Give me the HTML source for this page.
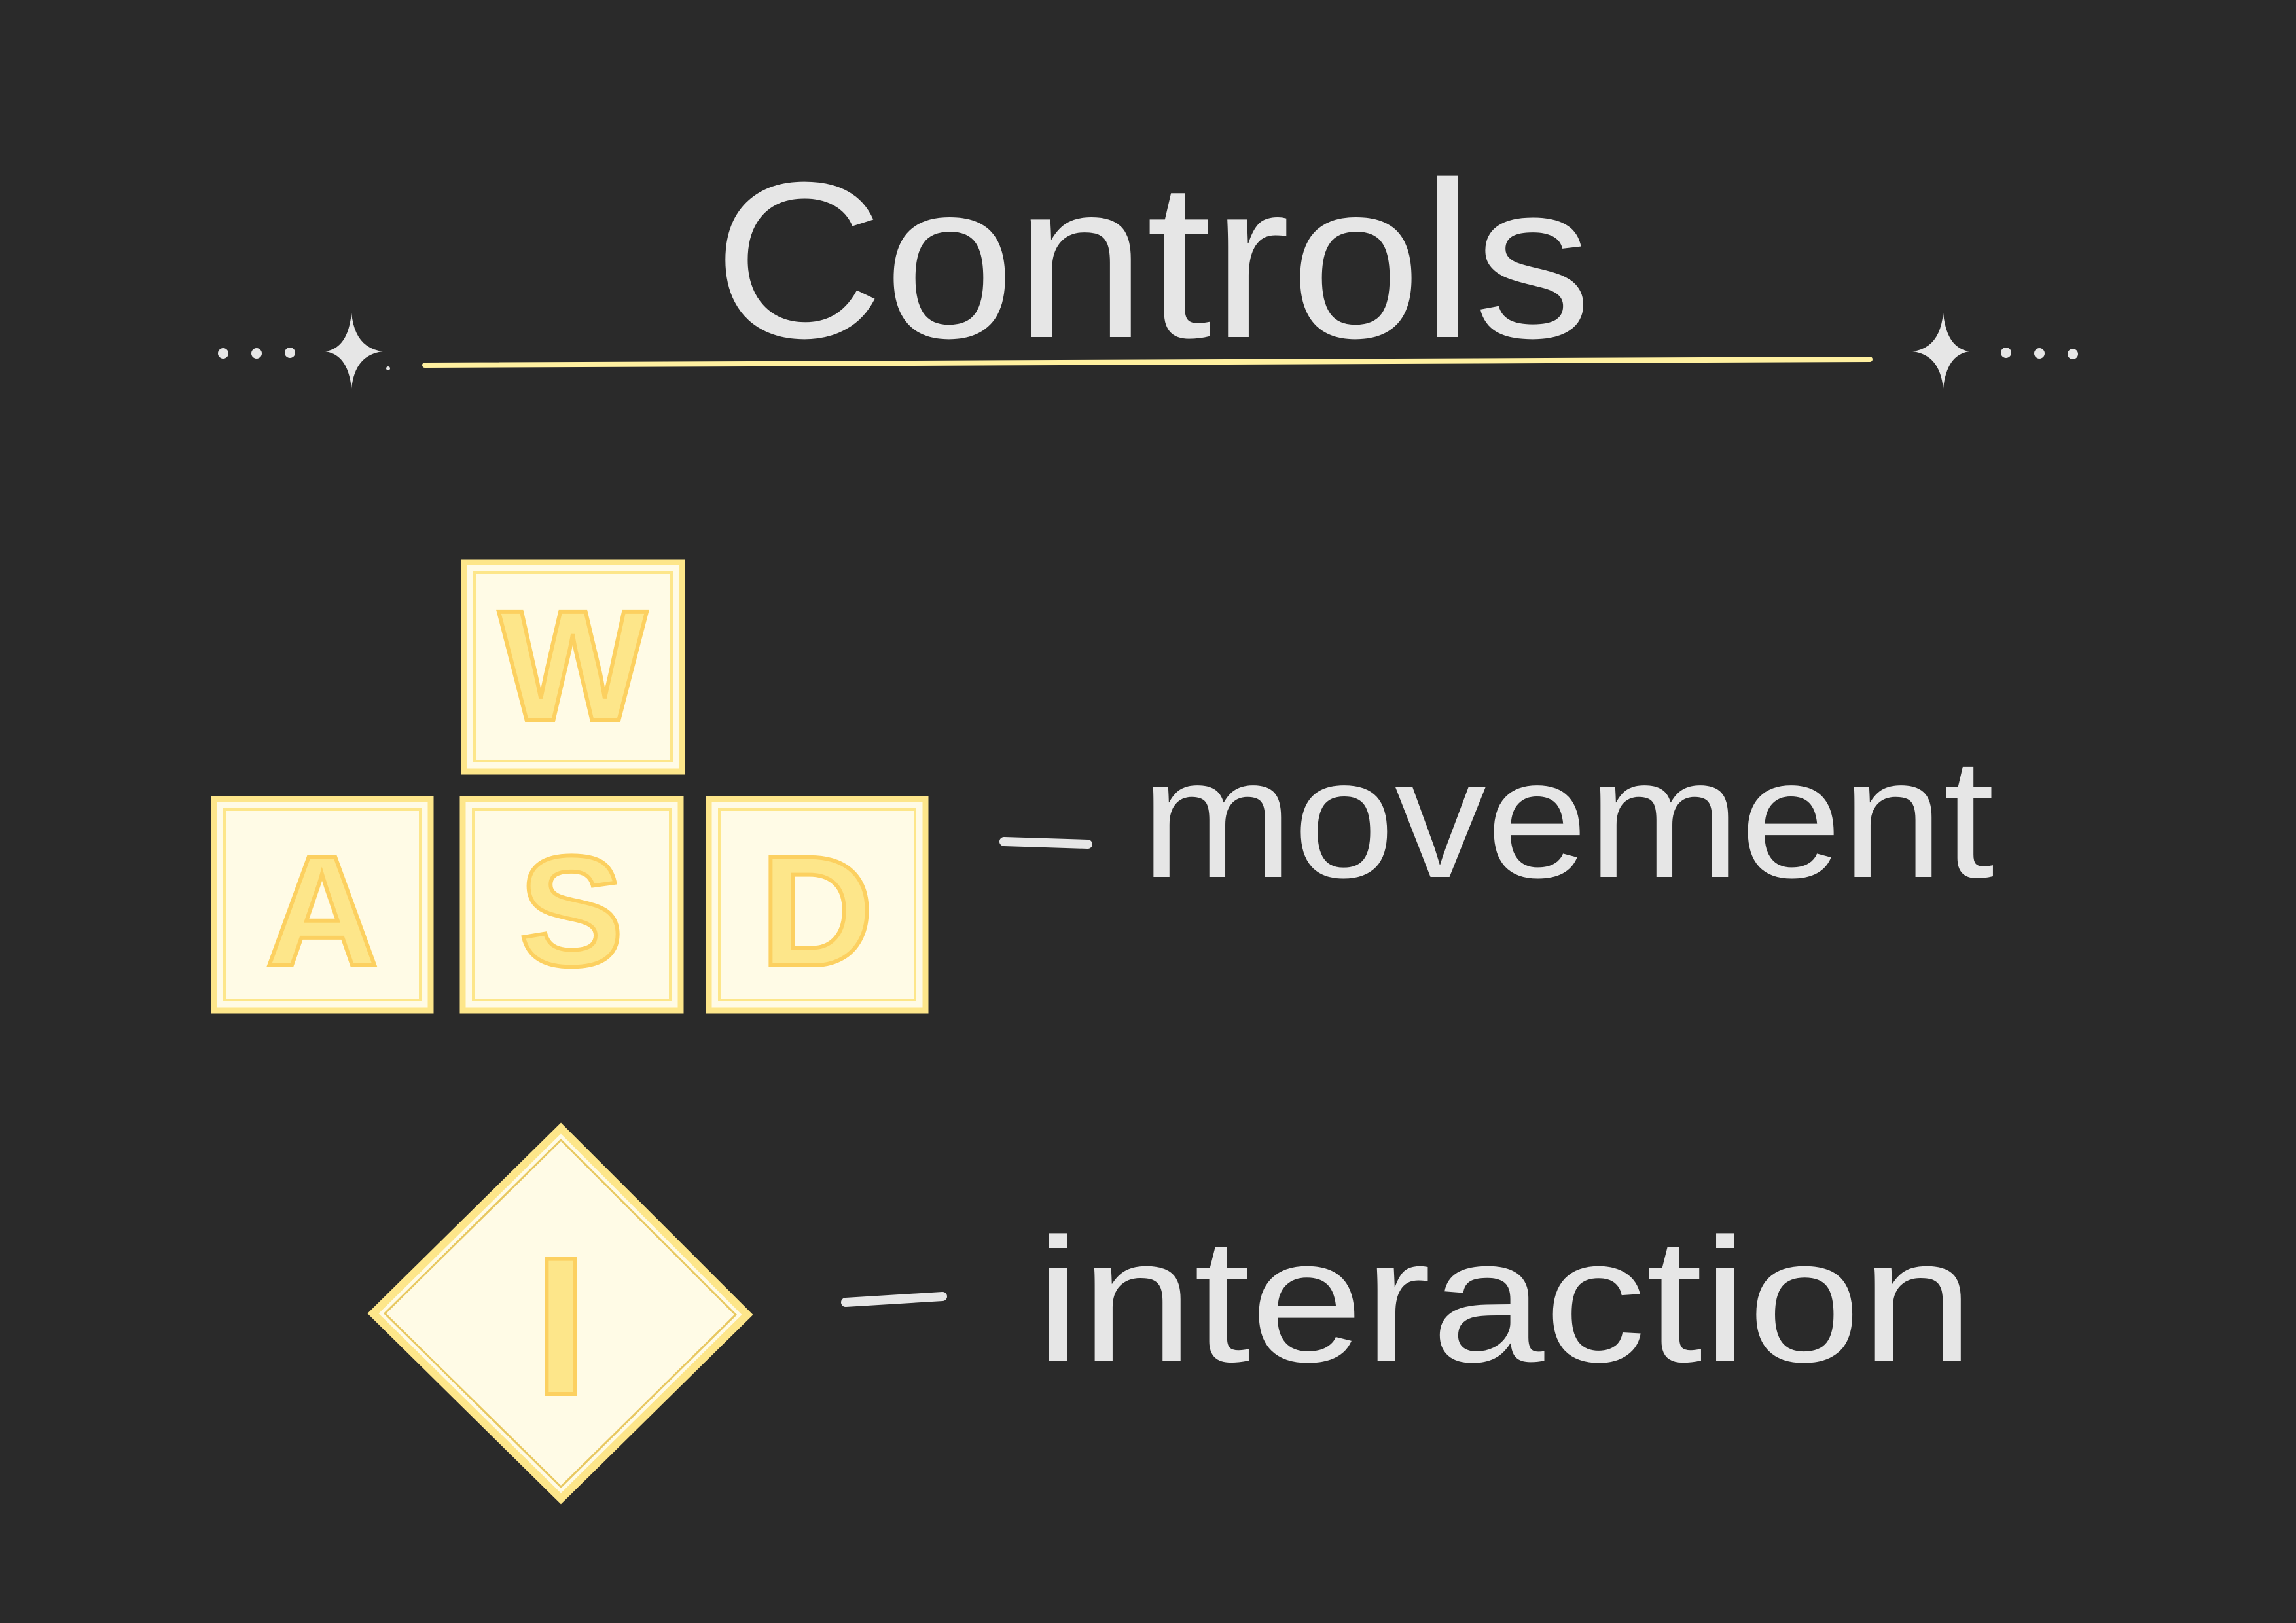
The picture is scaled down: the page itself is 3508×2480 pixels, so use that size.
<!DOCTYPE html>
<html><head><meta charset="utf-8"><style>
html,body{margin:0;padding:0;background:#2a2a2a;}
svg{display:block;}
text{font-family:"Liberation Sans",sans-serif;}
</style></head><body>
<svg width="3508" height="2480" viewBox="0 0 3508 2480" xmlns="http://www.w3.org/2000/svg">
<rect width="3508" height="2480" fill="#2a2a2a"/>
<text x="1090" y="515" font-size="340" fill="#e6e6e6" textLength="1342" lengthAdjust="spacingAndGlyphs">Controls</text>
<line x1="649" y1="558" x2="2857" y2="549" stroke="#fff0a0" stroke-width="8" stroke-linecap="round"/>
<g fill="#e6e6e6">
<path d="M537 478 Q542 532 585 537 Q542 542 537 594 Q532 542 497 537 Q532 532 537 478Z"/>
<path d="M2969 478 Q2974 532 3009 537 Q2974 542 2969 594 Q2964 542 2922 537 Q2964 532 2969 478Z"/>
<circle cx="341" cy="540" r="8"/><circle cx="392" cy="540" r="8"/><circle cx="443" cy="539" r="8"/>
<circle cx="3065" cy="539" r="8"/><circle cx="3116" cy="540" r="8"/><circle cx="3167" cy="541" r="8"/>
<circle cx="593" cy="563" r="3"/>
</g>
<g stroke="#fde68a" fill="#fffbe6">
<rect x="709" y="859" width="333" height="320" stroke-width="9"/>
<rect x="327" y="1221" width="331" height="323" stroke-width="9"/>
<rect x="707" y="1221" width="333" height="323" stroke-width="9"/>
<rect x="1083" y="1221" width="331" height="323" stroke-width="9"/>
</g>
<g fill="none" stroke="#fde68a" stroke-width="4">
<rect x="725" y="875" width="301" height="288"/>
<rect x="343" y="1237" width="299" height="291"/>
<rect x="723" y="1237" width="301" height="291"/>
<rect x="1099" y="1237" width="299" height="291"/>
</g>
<g font-size="240" font-weight="bold" fill="#fde68a" stroke="#fcd060" stroke-width="6" text-anchor="middle">
<text x="875" y="1100">W</text>
<text x="492" y="1475">A</text>
<text x="873" y="1475">S</text>
<text x="1248" y="1475">D</text>
</g>
<line x1="1534" y1="1286" x2="1662" y2="1290" stroke="#e6e6e6" stroke-width="14" stroke-linecap="round"/>
<line x1="1292" y1="1990" x2="1440" y2="1981" stroke="#e6e6e6" stroke-width="14" stroke-linecap="round"/>
<text x="1743" y="1340" font-size="260" fill="#e6e6e6" textLength="1304" lengthAdjust="spacingAndGlyphs">movement</text>
<text x="1582" y="2080" font-size="270" fill="#e6e6e6" textLength="1434" lengthAdjust="spacingAndGlyphs">interaction</text>
<polygon points="857,1724 1142,2009 857,2290 570,2007" fill="#fffbe6" stroke="#fde68a" stroke-width="12"/>
<polygon points="857,1742 1124,2009 857,2272 588,2007" fill="none" stroke="#e8c860" stroke-width="3"/>
<text x="857" y="2130" font-family="Liberation Serif,serif" font-weight="bold" font-size="300" fill="#fde68a" stroke="#fcd060" stroke-width="6" text-anchor="middle">I</text>
</svg>
</body></html>
